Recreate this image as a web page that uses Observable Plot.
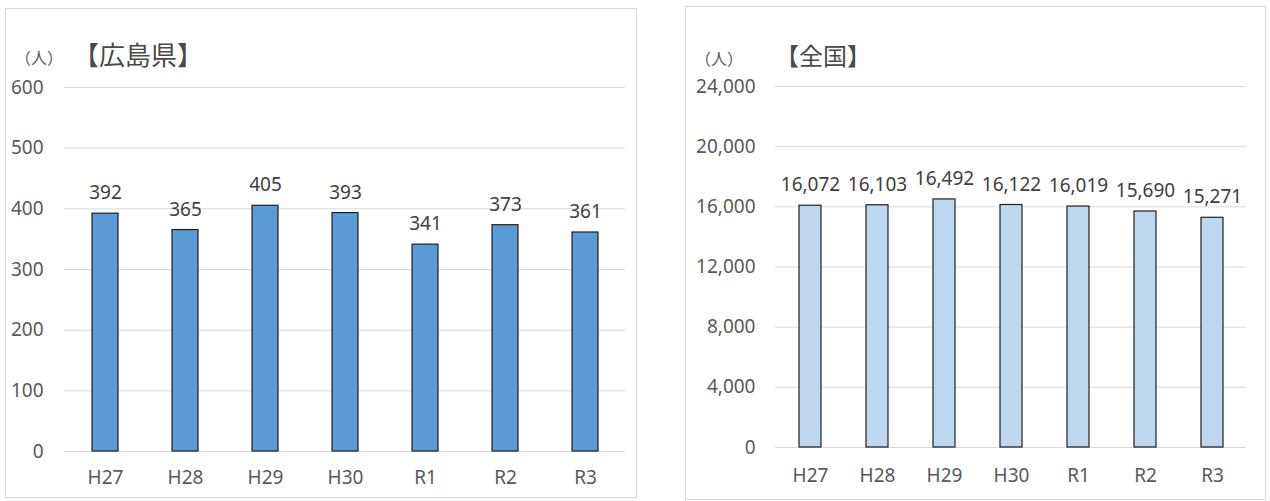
<!DOCTYPE html>
<html>
<head>
<meta charset="utf-8">
<script src="https://cdn.jsdelivr.net/npm/d3@7"></script>
<script src="https://cdn.jsdelivr.net/npm/@observablehq/plot@0.6"></script>
<style>
  html, body { margin: 0; padding: 0; background: #fff; }
  #page { position: relative; width: 1270px; height: 501px; overflow: hidden; }
  .panel { position: absolute; box-sizing: border-box; border: 1.5px solid #d9d9d9; }
  .chart { position: absolute; }
  .lbl { position: absolute; white-space: nowrap; line-height: 1; font-family: "Noto Sans CJK JP"; color: #4a4a4a; }
</style>
</head>
<body>
<div id="page">
  <div class="panel" style="left:5px;top:8px;width:632px;height:490px;"></div>
  <div class="panel" style="left:685px;top:6px;width:581px;height:494px;"></div>
  <div id="left" class="chart" style="left:5px;top:8px;"></div>
  <div id="right" class="chart" style="left:685px;top:6px;"></div>
  <div class="lbl" style="left:15px;top:49px;font-size:16px;color:#595959;">（人）</div>
  <div class="lbl" style="left:73px;top:41px;font-size:26px;">【広島県】</div>
  <div class="lbl" style="left:695px;top:50px;font-size:16px;color:#595959;">（人）</div>
  <div class="lbl" style="left:775px;top:43px;font-size:24px;">【全国】</div>
</div>
<script>
const years = ["H27", "H28", "H29", "H30", "R1", "R2", "R3"];
const hiroshimaValues = [392, 365, 405, 393, 341, 373, 361];
const zenkokuValues = [16072, 16103, 16492, 16122, 16019, 15690, 15271];
const hiroshimaTicks = [0, 100, 200, 300, 400, 500, 600];
const zenkokuTicks = [0, 4000, 8000, 12000, 16000, 20000, 24000];

const fmt = d3.format(",");

function makeChart(opts) {
  const data = years.map((y, i) => ({year: y, value: opts.values[i]}));
  return Plot.plot({
    width: opts.width,
    height: opts.height,
    marginLeft: opts.ml,
    marginRight: opts.mr,
    marginTop: opts.mt,
    marginBottom: opts.mb,
    style: {fontFamily: "Noto Sans", fontSize: "19px", color: "#595959", background: "transparent", overflow: "visible"},
    x: {domain: years, paddingInner: opts.pi, paddingOuter: opts.pi / 2, align: 0.5, label: null},
    y: {domain: [0, opts.ticks[opts.ticks.length - 1]], label: null},
    marks: [
      Plot.gridY(opts.ticks, {stroke: "#d9d9d9", strokeOpacity: 1, strokeWidth: 1}),
      Plot.barY(data, {x: "year", y: "value", fill: opts.fill, stroke: "#1e1e1e", strokeWidth: 1.2}),
      Plot.text(data, {x: "year", y: "value", text: d => fmt(d.value), dy: opts.dy, fill: "#404040", fontSize: 19}),
      Plot.axisX({tickSize: 0, tickPadding: opts.xpad, fontSize: 19, label: null}),
      Plot.axisY(opts.ticks, {tickSize: 0, tickPadding: opts.ypad, fontSize: 19, label: null, tickFormat: fmt})
    ]
  });
}

document.getElementById("left").append(makeChart({
  values: hiroshimaValues, ticks: hiroshimaTicks, fill: "#5b9bd5",
  width: 632, height: 489, ml: 59, mr: 12, mt: 79, mb: 46,
  pi: 0.676, dy: -20.5, xpad: 18.5, ypad: 21
}));
document.getElementById("right").append(makeChart({
  values: zenkokuValues, ticks: zenkokuTicks, fill: "#bdd7ee",
  width: 581, height: 493, ml: 90, mr: 20, mt: 80, mb: 52,
  pi: 0.673, dy: -20.5, xpad: 21, ypad: 20
}));
</script>
</body>
</html>
